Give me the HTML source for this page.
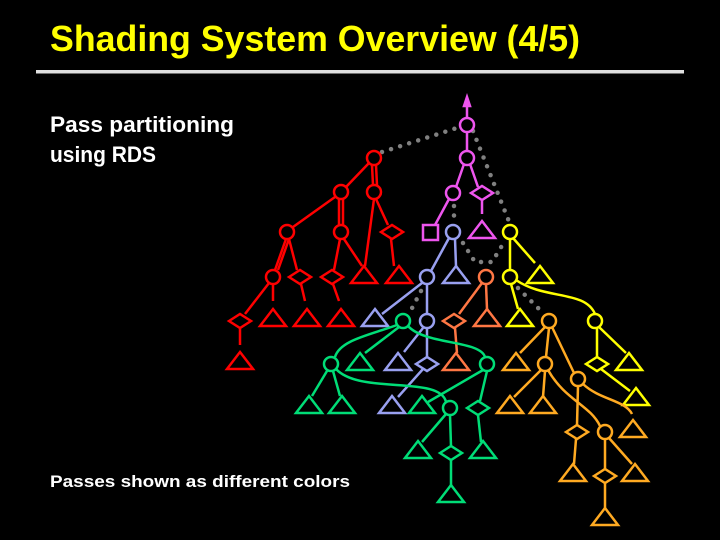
<!DOCTYPE html>
<html><head><meta charset="utf-8"><style>
html,body{margin:0;padding:0;background:#000;}
svg{display:block;}
text{font-family:"Liberation Sans",sans-serif;font-weight:bold;}
</style></head><body>
<svg width="720" height="540" viewBox="0 0 720 540" xmlns="http://www.w3.org/2000/svg">
<defs>
<g id="tri"><polygon points="0,-17 13,0 -13,0" fill="none" stroke-width="2.5"/></g>
</defs>
<rect width="720" height="540" fill="#000"/>
<text x="50" y="51" font-size="36" fill="#ffff00" textLength="530" lengthAdjust="spacingAndGlyphs">Shading System Overview (4/5)</text>
<rect x="36" y="70" width="648" height="3.5" fill="#e0e0e0"/>
<text x="50" y="132" font-size="22" fill="#fff" textLength="184" lengthAdjust="spacingAndGlyphs">Pass partitioning</text>
<text x="50" y="162" font-size="22" fill="#fff" textLength="106" lengthAdjust="spacingAndGlyphs">using RDS</text>
<text x="50" y="487" font-size="17" fill="#fff" textLength="300" lengthAdjust="spacingAndGlyphs">Passes shown as different colors</text>

<g stroke="#808080" stroke-width="4.5" stroke-linecap="round" stroke-dasharray="0 9.5" fill="none">
<path d="M382,152 L460,127"/>
<path d="M473,131 L510,224"/>
<path d="M454,206 L454,224"/>
<path d="M463,243 L475,262 L492,262 L503,244"/>
<path d="M421,291 L410,312"/>
<path d="M518,288 L542,312"/>
</g>

<g fill="none" stroke-width="2.5" stroke-linejoin="miter">
<g stroke="#ee55ee">
<path d="M467,118 L467,100 M464,106 L467,97 L470,106 Z"/>
<path d="M467,132 L467,151 M464,164 L456,187 M470,164 L478,187 M449,199 L435,225 M482,200 L482,214"/>
<circle cx="467" cy="125" r="7"/><circle cx="467" cy="158" r="7"/><circle cx="453" cy="193" r="7"/>
<polygon points="471,193 482,186 493,193 482,200"/>
<rect x="423" y="225" width="15" height="15"/>
<use href="#tri" x="482" y="238"/>
</g>
<g stroke="#ff0000">
<path d="M369,163 L346,187 M372,165 L373,185 M376,165 L377,185 M335,197 L293,227 M339,199 L339,225 M343,199 L343,225 M374,199 L365,266 M376,199 L388,225"/>
<path d="M286,239 L275,270 M289,239 L278,270 M289,239 L297,270 M340,239 L334,270 M344,239 L362,266 M391,239 L394,266"/>
<path d="M269,283 L245,314 M273,284 L273,301 M301,284 L305,301 M333,284 L339,301 M240,328 L240,345"/>
<circle cx="374" cy="158" r="7"/><circle cx="341" cy="192" r="7"/><circle cx="374" cy="192" r="7"/>
<circle cx="287" cy="232" r="7"/><circle cx="341" cy="232" r="7"/><circle cx="273" cy="277" r="7"/>
<polygon points="381,232 392,225 403,232 392,239"/>
<polygon points="289,277 300,270 311,277 300,284"/>
<polygon points="321,277 332,270 343,277 332,284"/>
<polygon points="229,321 240,314 251,321 240,328"/>
<use href="#tri" x="364" y="283"/><use href="#tri" x="399" y="283"/>
<use href="#tri" x="273" y="326"/><use href="#tri" x="307" y="326"/><use href="#tri" x="341" y="326"/>
<use href="#tri" x="240" y="369"/>
</g>
<g stroke="#99a0f0">
<path d="M449,238 L431,271 M455,239 L456,266 M422,283 L382,314 M427,284 L427,314 M423,328 L404,352 M427,328 L427,357 M423,369 L398,397"/>
<circle cx="453" cy="232" r="7"/><circle cx="427" cy="277" r="7"/><circle cx="427" cy="321" r="7"/>
<polygon points="416,364 427,357 438,364 427,371"/>
<use href="#tri" x="456" y="283"/><use href="#tri" x="375" y="326"/><use href="#tri" x="398" y="370"/><use href="#tri" x="392" y="413"/>
</g>
<g stroke="#ff7744">
<path d="M482,283 L459,314 M486,284 L487,309 M455,328 L457,353"/>
<circle cx="486" cy="277" r="7"/>
<polygon points="443,321 454,314 465,321 454,328"/>
<use href="#tri" x="487" y="326"/><use href="#tri" x="456" y="370"/>
</g>
<g stroke="#ffff00">
<path d="M510,239 L510,270 M513,238 L535,263 M511,284 L518,309 M516,280 C545,300 585,290 595,314 M597,328 L597,357 M601,369 L630,391 M599,327 L626,353"/>
<circle cx="510" cy="232" r="7"/><circle cx="510" cy="277" r="7"/><circle cx="595" cy="321" r="7"/>
<polygon points="586,364 597,357 608,364 597,371"/>
<use href="#tri" x="540" y="283"/><use href="#tri" x="520" y="326"/><use href="#tri" x="629" y="370"/><use href="#tri" x="636" y="405"/>
</g>
<g stroke="#00dd77">
<path d="M397,325 C370,335 340,340 335,357 M399,327 L365,353 M408,326 C425,345 480,340 485,357"/>
<path d="M327,371 L312,396 M333,371 L340,396 M336,369 C360,395 440,375 446,402 M483,370 L428,402 M487,371 L480,401"/>
<path d="M446,414 L422,442 M450,415 L451,446 M451,460 L451,486 M478,415 L481,442"/>
<circle cx="403" cy="321" r="7"/><circle cx="331" cy="364" r="7"/><circle cx="487" cy="364" r="7"/><circle cx="450" cy="408" r="7"/>
<polygon points="467,408 478,401 489,408 478,415"/>
<polygon points="440,453 451,446 462,453 451,460"/>
<use href="#tri" x="360" y="370"/><use href="#tri" x="309" y="413"/><use href="#tri" x="342" y="413"/><use href="#tri" x="422" y="413"/>
<use href="#tri" x="418" y="458"/><use href="#tri" x="483" y="458"/><use href="#tri" x="451" y="502"/>
</g>
<g stroke="#ffaa22">
<path d="M545,327 L520,353 M549,328 L546,357 M552,327 L574,373 M541,370 L514,397 M545,371 L543,397 M548,370 C565,400 590,405 600,426"/>
<path d="M578,386 L577,425 M583,384 C600,400 625,400 632,414 M576,439 L574,464 M605,439 L605,469 M609,438 L632,464 M605,483 L605,508"/>
<circle cx="549" cy="321" r="7"/><circle cx="545" cy="364" r="7"/><circle cx="578" cy="379" r="7"/><circle cx="605" cy="432" r="7"/>
<polygon points="566,432 577,425 588,432 577,439"/>
<polygon points="594,476 605,469 616,476 605,483"/>
<use href="#tri" x="516" y="370"/><use href="#tri" x="510" y="413"/><use href="#tri" x="543" y="413"/>
<use href="#tri" x="633" y="437"/><use href="#tri" x="573" y="481"/><use href="#tri" x="635" y="481"/><use href="#tri" x="605" y="525"/>
</g>
</g>
</svg>
</body></html>
